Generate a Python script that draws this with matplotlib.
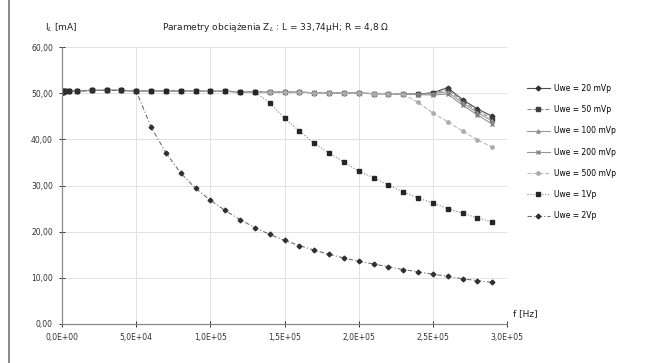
import matplotlib
matplotlib.use("Agg")
import matplotlib.pyplot as plt
from matplotlib.ticker import FuncFormatter
from matplotlib.lines import Line2D

# Frequencies [Hz]
freq = [100, 500, 1000, 2000, 5000,
        10000, 20000, 30000, 40000, 50000, 60000, 70000, 80000, 90000, 100000,
        110000, 120000, 130000, 140000, 150000, 160000, 170000, 180000, 190000, 200000,
        210000, 220000, 230000, 240000, 250000, 260000, 270000, 280000, 290000]

# I_L [mA] for each input amplitude
u_20mv = [50.3, 50.3, 50.4, 50.4, 50.5, 50.5, 50.6, 50.6, 50.6, 50.5,
          50.5, 50.5, 50.5, 50.4, 50.4, 50.4, 50.3, 50.3, 50.3, 50.2,
          50.2, 50.1, 50.1, 50.0, 50.0, 49.9, 49.9, 49.8, 49.8, 50.1,
          51.2, 48.6, 46.6, 45.0]
u_50mv = [50.3, 50.3, 50.4, 50.4, 50.5, 50.5, 50.6, 50.6, 50.6, 50.5,
          50.5, 50.5, 50.5, 50.4, 50.4, 50.4, 50.3, 50.3, 50.3, 50.2,
          50.2, 50.1, 50.1, 50.0, 50.0, 49.9, 49.9, 49.8, 49.8, 50.0,
          50.8, 48.3, 46.2, 44.5]
u_100mv = [50.3, 50.3, 50.4, 50.4, 50.5, 50.5, 50.6, 50.6, 50.6, 50.5,
           50.5, 50.5, 50.5, 50.4, 50.4, 50.4, 50.3, 50.3, 50.3, 50.2,
           50.2, 50.1, 50.1, 50.0, 50.0, 49.9, 49.9, 49.8, 49.8, 49.9,
           50.3, 47.9, 45.8, 44.0]
u_200mv = [50.3, 50.3, 50.4, 50.4, 50.5, 50.5, 50.6, 50.6, 50.6, 50.5,
           50.5, 50.5, 50.5, 50.4, 50.4, 50.4, 50.3, 50.3, 50.3, 50.2,
           50.2, 50.1, 50.1, 50.0, 50.0, 49.9, 49.9, 49.8, 49.7, 49.6,
           49.8, 47.4, 45.3, 43.3]
u_500mv = [50.3, 50.3, 50.4, 50.4, 50.5, 50.5, 50.6, 50.6, 50.6, 50.5,
           50.5, 50.5, 50.5, 50.4, 50.4, 50.4, 50.3, 50.3, 50.3, 50.2,
           50.2, 50.1, 50.1, 50.0, 50.0, 49.9, 49.9, 49.8, 48.0, 45.7,
           43.8, 41.8, 39.9, 38.3]
u_1v = [50.3, 50.3, 50.4, 50.4, 50.5, 50.5, 50.6, 50.6, 50.6, 50.5,
        50.5, 50.5, 50.5, 50.4, 50.4, 50.4, 50.3, 50.3, 47.9, 44.6,
        41.8, 39.2, 37.0, 35.1, 33.1, 31.7, 30.1, 28.6, 27.3, 26.2,
        25.0, 24.0, 23.0, 22.1]
u_2v = [50.3, 50.3, 50.4, 50.4, 50.5, 50.5, 50.6, 50.6, 50.6, 50.5,
        42.7, 37.1, 32.7, 29.4, 26.8, 24.6, 22.6, 20.9, 19.4, 18.1,
        17.0, 16.0, 15.1, 14.3, 13.6, 13.0, 12.4, 11.8, 11.3, 10.8,
        10.3, 9.8, 9.4, 9.0]

labels = ["Uwe = 20 mVp", "Uwe = 50 mVp", "Uwe = 100 mVp", "Uwe = 200 mVp",
          "Uwe = 500 mVp", "Uwe = 1Vp", "Uwe = 2Vp"]
series = [u_20mv, u_50mv, u_100mv, u_200mv, u_500mv, u_1v, u_2v]

styles = [
    dict(color="#505050", ls="-", marker="D", mfc="#303030", mec="#303030"),
    dict(color="#8a8a8a", ls="--", marker="s", mfc="#404040", mec="#404040"),
    dict(color="#999999", ls="-", marker="^", mfc="#909090", mec="#909090"),
    dict(color="#959595", ls="-", marker="x", mfc="#808080", mec="#808080"),
    dict(color="#b8b8b8", ls="--", marker="o", mfc="#ababab", mec="#ababab"),
    dict(color="#808080", ls=":", marker="s", mfc="#252525", mec="#252525"),
    dict(color="#707070", ls=(0, (4, 2, 1, 2)), marker="D", mfc="#303030", mec="#303030"),
]

plt.rcParams["font.family"] = ["DejaVu Sans"]

fig = plt.figure(figsize=(6.53, 3.63), dpi=100)
ax = fig.add_axes([62 / 653, 1 - 324 / 363, 445 / 653, 277 / 363])

for vals, lab, st in zip(series, labels, styles):
    ax.plot(freq, vals, label=lab, lw=0.8, ms=2.4, **st)

ax.set_xlim(0, 300000)
ax.set_ylim(0, 60)
ax.set_xticks([0, 50000, 100000, 150000, 200000, 250000, 300000])
ax.set_yticks([0, 10, 20, 30, 40, 50, 60])

def sci_fmt(v, pos):
    s = "%.1E" % v
    mant, ex = s.split("E")
    sign = ex[0]
    return mant.replace(".", ",") + "E" + sign + ex[1:].zfill(2)

ax.xaxis.set_major_formatter(FuncFormatter(sci_fmt))
ax.yaxis.set_major_formatter(FuncFormatter(lambda v, p: ("%.2f" % v).replace(".", ",")))
ax.tick_params(labelsize=5.5, direction="inout", length=5, width=0.7, colors="#333333",
               pad=4)
ax.grid(True, color="#e2e2e2", lw=0.7)
ax.set_axisbelow(True)
for s in ["top", "right"]:
    ax.spines[s].set_visible(False)
for s in ["left", "bottom"]:
    ax.spines[s].set_color("#888888")
    ax.spines[s].set_linewidth(0.9)

fig.text(45 / 653, 1 - 28 / 363, "I$_L$ [mA]", fontsize=6.5, va="center", color="#222222")
fig.text(276 / 653, 1 - 28 / 363, "Parametry obciążenia Z$_L$ : L = 33,74μH; R = 4,8 Ω",
         fontsize=6.5, ha="center", va="center", color="#222222")
fig.text(513 / 653, 1 - 314 / 363, "f [Hz]", fontsize=6.5, va="center", color="#222222")

handles, labs = ax.get_legend_handles_labels()
fig.legend(handles, labs, loc="upper left", bbox_to_anchor=(520 / 653, 1 - 77 / 363),
           frameon=False, fontsize=5.5, handlelength=3.0, labelspacing=1.6,
           handletextpad=0.5)

fig.add_artist(Line2D([9 / 653, 9 / 653], [0, 1], color="#777777", lw=1.2))

fig.savefig("out.png", dpi=100)
